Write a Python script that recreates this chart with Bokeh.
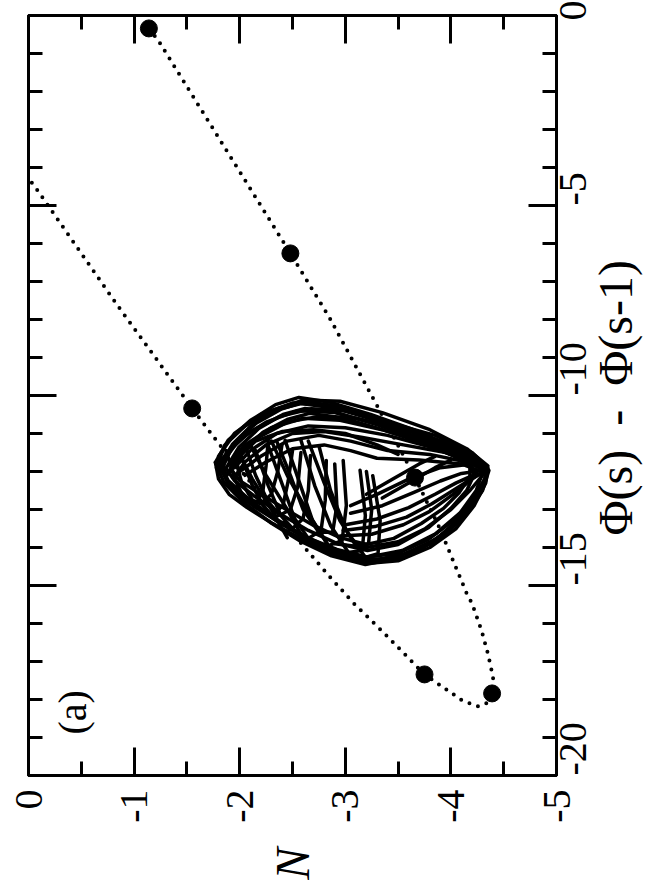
import math
from bokeh.plotting import figure
from bokeh.models import Range1d, LinearAxis, FixedTicker, Label
from bokeh.embed import file_html
from bokeh.resources import INLINE

# ---------------- data ----------------
n_ticks = [0, -1, -2, -3, -4, -5]
n_tick_labels = ["0", "-1", "-2", "-3", "-4", "-5"]
n_minor = [-0.5, -1.5, -2.5, -3.5, -4.5]
phi_ticks = [0, -5, -10, -15, -20]
phi_tick_labels = ["0", "-5", "-10", "-15", "-20"]
phi_minor = [-1, -2, -3, -4, -6, -7, -8, -9, -11, -12, -13, -14, -16, -17, -18, -19]

# dotted orbit (N, Phi diff)
path_N = [0.10, -0.04, -0.83, -1.55, -1.80, -2.50, -2.86, -3.08, -3.37, -3.75, -4.11, -4.26,
          -4.35, -4.39, -4.40, -4.35, -4.29, -4.20, -4.15, -3.89, -3.66, -3.34, -2.85, -2.48,
          -1.23, -1.14]
path_phi = [-4.10, -4.42, -7.58, -10.34, -11.26, -13.63, -14.79, -15.47, -16.26, -17.34, -18.03,
            -18.18, -18.08, -17.84, -17.42, -16.79, -16.18, -15.47, -15.21, -13.47, -12.16,
            -10.47, -7.95, -6.26, -0.66, -0.34]

# big dots on the orbit
marker_N = [-1.14, -2.48, -3.66, -4.39, -3.75, -1.55]
marker_phi = [-0.34, -6.26, -12.16, -17.84, -17.34, -10.34]

# attractor strands
outer1_N = [-1.77, -1.89, -2.10, -2.34, -2.56, -2.86, -3.24, -3.62, -4.00, -4.26, -4.36, -4.30, -4.14, -3.90, -3.57, -3.19, -2.86, -2.58, -2.29, -2.04, -1.85, -1.77]
outer1_phi = [-11.76, -11.18, -10.66, -10.24, -10.05, -10.18, -10.50, -10.87, -11.32, -11.66, -11.97, -12.50, -13.16, -13.76, -14.24, -14.45, -14.21, -13.84, -13.34, -12.82, -12.29, -11.76]
outer2_N = [-1.82, -1.93, -2.12, -2.36, -2.58, -2.88, -3.26, -3.64, -4.00, -4.24, -4.30, -4.24, -4.09, -3.86, -3.54, -3.20, -2.88, -2.60, -2.32, -2.08, -1.89, -1.82]
outer2_phi = [-11.84, -11.29, -10.76, -10.37, -10.21, -10.32, -10.63, -10.97, -11.39, -11.74, -12.03, -12.50, -13.08, -13.63, -14.08, -14.26, -14.05, -13.68, -13.21, -12.71, -12.24, -11.84]
outer3_N = [-1.87, -1.99, -2.18, -2.41, -2.62, -2.92, -3.29, -3.66, -4.00, -4.19, -4.22, -4.15, -4.00, -3.79, -3.50, -3.21, -2.92, -2.65, -2.38, -2.13, -1.95, -1.87]
outer3_phi = [-11.92, -11.37, -10.87, -10.50, -10.34, -10.45, -10.76, -11.11, -11.50, -11.82, -12.08, -12.50, -12.97, -13.47, -13.92, -14.08, -13.89, -13.55, -13.11, -12.63, -12.24, -11.92]
outer4_N = [-1.92, -2.04, -2.22, -2.45, -2.66, -2.96, -3.32, -3.70, -4.02, -4.18, -4.18, -4.08, -3.93, -3.72, -3.46, -3.20, -2.95, -2.70, -2.44, -2.19, -2.00, -1.92]
outer4_phi = [-11.95, -11.45, -10.97, -10.63, -10.47, -10.58, -10.87, -11.21, -11.58, -11.88, -12.13, -12.55, -12.97, -13.37, -13.76, -13.92, -13.74, -13.42, -13.00, -12.58, -12.24, -11.95]
outer5_N = [-1.80, -1.95, -2.16, -2.40, -2.62, -2.92, -3.30, -3.68, -4.02, -4.28, -4.34, -4.26, -4.10, -3.86, -3.55, -3.22, -2.90, -2.62, -2.34, -2.08, -1.88, -1.80]
outer5_phi = [-11.80, -11.25, -10.72, -10.35, -10.16, -10.28, -10.58, -10.95, -11.36, -11.72, -12.05, -12.60, -13.20, -13.78, -14.18, -14.36, -14.12, -13.76, -13.28, -12.76, -12.26, -11.80]

top1_N = [-1.80, -1.95, -2.20, -2.50, -2.85, -3.25, -3.65, -4.00, -4.30]
top1_phi = [-11.60, -11.00, -10.50, -10.20, -10.25, -10.60, -10.95, -11.40, -11.85]
top2_N = [-1.85, -2.00, -2.25, -2.55, -2.90, -3.30, -3.70, -4.05, -4.30]
top2_phi = [-11.70, -11.15, -10.70, -10.40, -10.45, -10.75, -11.10, -11.50, -11.90]
top3_N = [-1.90, -2.05, -2.30, -2.60, -2.95, -3.35, -3.75, -4.10, -4.32]
top3_phi = [-11.80, -11.30, -10.85, -10.60, -10.65, -10.90, -11.25, -11.60, -11.95]
top4_N = [-1.95, -2.10, -2.35, -2.65, -3.00, -3.40, -3.80, -4.15, -4.33]
top4_phi = [-11.90, -11.45, -11.00, -10.80, -10.85, -11.05, -11.35, -11.70, -12.00]
top5_N = [-2.00, -2.20, -2.45, -2.75, -3.05, -3.40, -3.80, -4.15, -4.34]
top5_phi = [-12.00, -11.60, -11.20, -11.05, -11.20, -11.45, -11.55, -11.75, -12.00]
top6_N = [-2.05, -2.25, -2.50, -2.80, -3.05, -3.30, -3.70, -4.10, -4.33]
top6_phi = [-12.10, -11.75, -11.40, -11.30, -11.45, -11.65, -11.70, -11.80, -12.05]
top7_N = [-1.78, -1.86, -2.05, -2.30, -2.60, -2.95, -3.35, -3.80, -4.15, -4.35]
top7_phi = [-11.90, -11.30, -10.80, -10.40, -10.12, -10.15, -10.45, -10.90, -11.40, -11.85]
top8_N = [-1.90, -2.00, -2.15, -2.40, -2.70, -3.00, -3.30, -3.50]
top8_phi = [-12.05, -11.60, -11.20, -10.95, -10.90, -11.00, -11.30, -11.55]
top9_N = [-1.83, -1.92, -2.10, -2.38, -2.68, -3.00, -3.40, -3.85, -4.20, -4.35]
top9_phi = [-11.95, -11.40, -10.95, -10.55, -10.35, -10.40, -10.70, -11.05, -11.50, -11.90]
top10_N = [-1.88, -1.98, -2.18, -2.45, -2.75, -3.10, -3.50, -3.90, -4.22, -4.35]
top10_phi = [-12.10, -11.55, -11.10, -10.70, -10.55, -10.60, -10.85, -11.20, -11.60, -11.95]
top11_N = [-1.95, -2.05, -2.25, -2.50, -2.80, -3.15, -3.55, -3.95, -4.30]
top11_phi = [-12.15, -11.75, -11.30, -11.00, -10.95, -11.10, -11.30, -11.50, -11.90]

low1_N = [-3.00, -3.20, -3.50, -3.80, -4.05, -4.22, -4.33, -4.35]
low1_phi = [-14.25, -14.42, -14.35, -14.00, -13.50, -12.90, -12.30, -11.95]
low2_N = [-2.95, -3.20, -3.50, -3.78, -4.02, -4.20, -4.32, -4.34]
low2_phi = [-14.10, -14.25, -14.15, -13.80, -13.30, -12.75, -12.20, -11.95]
low3_N = [-2.90, -3.20, -3.50, -3.76, -4.00, -4.18, -4.30]
low3_phi = [-13.90, -14.00, -13.85, -13.50, -13.00, -12.50, -12.10]
low4_N = [-2.95, -3.25, -3.55, -3.80, -4.02, -4.20, -4.32]
low4_phi = [-13.70, -13.65, -13.40, -13.05, -12.60, -12.20, -11.98]
low5_N = [-3.00, -3.30, -3.60, -3.85, -4.05, -4.25]
low5_phi = [-13.40, -13.25, -12.95, -12.60, -12.30, -12.05]
low6_N = [-3.05, -3.35, -3.65, -3.90, -4.10, -4.30]
low6_phi = [-13.10, -12.90, -12.55, -12.25, -12.05, -11.97]
low7_N = [-3.05, -3.30, -3.60, -3.90, -4.20]
low7_phi = [-12.90, -12.60, -12.20, -11.90, -11.80]
low8_N = [-3.10, -3.40, -3.70, -3.95, -4.15, -4.30, -4.35]
low8_phi = [-14.30, -14.30, -14.05, -13.60, -13.00, -12.40, -12.00]
low9_N = [-2.98, -3.28, -3.58, -3.82, -4.05, -4.25, -4.34]
low9_phi = [-13.55, -13.45, -13.20, -12.85, -12.45, -12.10, -11.97]
diag1_N = [-3.20, -3.45, -3.70, -3.85]
diag1_phi = [-12.60, -12.20, -11.80, -11.60]
diag2_N = [-3.35, -3.60, -3.85, -4.00]
diag2_phi = [-12.70, -12.30, -11.90, -11.70]

edge1_N = [-1.77, -1.80, -1.90, -2.07, -2.30, -2.60, -2.86, -3.15]
edge1_phi = [-11.76, -12.20, -12.60, -12.95, -13.35, -13.80, -14.15, -14.40]
edge2_N = [-1.85, -1.88, -1.98, -2.15, -2.38, -2.65, -2.92, -3.20]
edge2_phi = [-11.85, -12.25, -12.60, -12.95, -13.35, -13.75, -14.05, -14.25]

arc0_N = [-1.87, -1.96, -2.05, -2.15, -2.22, -2.25, -2.27]
arc0_phi = [-11.45, -12.24, -12.76, -12.89, -12.50, -11.84, -11.18]
arc1_N = [-2.01, -2.12, -2.22, -2.31, -2.41, -2.46, -2.50]
arc1_phi = [-11.58, -12.37, -12.89, -13.16, -12.89, -12.24, -11.45]
arc2_N = [-2.15, -2.27, -2.39, -2.50, -2.60, -2.65, -2.67]
arc2_phi = [-11.45, -12.37, -13.16, -13.50, -13.24, -12.50, -11.58]
arc3_N = [-2.27, -2.39, -2.52, -2.65, -2.77, -2.81, -2.82]
arc3_phi = [-11.32, -12.24, -13.24, -13.76, -13.55, -12.76, -11.71]
arc4_N = [-2.43, -2.56, -2.69, -2.84, -2.97, -3.01, -2.98]
arc4_phi = [-11.18, -12.24, -13.29, -13.95, -13.82, -12.89, -11.71]
arc5_N = [-2.58, -2.71, -2.86, -3.03, -3.16, -3.19, -3.14]
arc5_phi = [-11.18, -12.37, -13.42, -14.13, -14.08, -13.16, -11.97]
arc6_N = [-2.75, -2.86, -3.01, -3.19, -3.31, -3.33, -3.26]
arc6_phi = [-11.32, -12.50, -13.55, -14.26, -14.16, -13.29, -12.11]
arc7_N = [-2.05, -2.15, -2.27, -2.38, -2.48, -2.55, -2.58]
arc7_phi = [-11.30, -12.10, -12.80, -13.15, -13.00, -12.40, -11.50]
arc8_N = [-2.35, -2.48, -2.60, -2.75, -2.88, -2.92, -2.90]
arc8_phi = [-11.20, -12.10, -13.00, -13.60, -13.60, -12.90, -11.80]
arc9_N = [-2.65, -2.80, -2.95, -3.10, -3.22, -3.25, -3.20]
arc9_phi = [-11.20, -12.30, -13.30, -13.95, -13.90, -13.00, -12.00]
arc10_N = [-1.95, -2.02, -2.12, -2.20, -2.30, -2.36, -2.40]
arc10_phi = [-11.60, -12.30, -12.75, -12.85, -12.60, -12.00, -11.30]
slant1_N = [-1.98, -2.12, -2.30, -2.45]
slant1_phi = [-11.45, -12.20, -13.00, -13.74]
slant2_N = [-2.10, -2.25, -2.45, -2.62]
slant2_phi = [-11.30, -12.10, -13.00, -13.85]
slant3_N = [-2.30, -2.45, -2.65, -2.85]
slant3_phi = [-11.20, -12.10, -13.10, -14.00]

strands_N = [outer1_N, outer2_N, outer3_N, outer4_N, outer5_N,
             top1_N, top2_N, top3_N, top4_N, top5_N, top6_N, top7_N, top8_N, top9_N, top10_N, top11_N,
             low1_N, low2_N, low3_N, low4_N, low5_N, low6_N, low7_N, low8_N, low9_N, diag1_N, diag2_N,
             edge1_N, edge2_N, arc0_N, arc1_N, arc2_N, arc3_N, arc4_N, arc5_N, arc6_N,
             arc7_N, arc8_N, arc9_N, arc10_N, slant1_N, slant2_N, slant3_N]
strands_phi = [outer1_phi, outer2_phi, outer3_phi, outer4_phi, outer5_phi,
               top1_phi, top2_phi, top3_phi, top4_phi, top5_phi, top6_phi, top7_phi, top8_phi, top9_phi, top10_phi, top11_phi,
               low1_phi, low2_phi, low3_phi, low4_phi, low5_phi, low6_phi, low7_phi, low8_phi, low9_phi, diag1_phi, diag2_phi,
               edge1_phi, edge2_phi, arc0_phi, arc1_phi, arc2_phi, arc3_phi, arc4_phi, arc5_phi, arc6_phi,
               arc7_phi, arc8_phi, arc9_phi, arc10_phi, slant1_phi, slant2_phi, slant3_phi]

x_title = "N"
y_title = "\u03a6(s)\u2002-\u2002\u03a6(s-1)"

# ---------------- figure ----------------
FONT = "Liberation Serif"

p = figure(frame_width=528, frame_height=760,
           x_range=Range1d(0, -5), y_range=Range1d(-20, 0),
           x_axis_location=None, y_axis_location=None,
           toolbar_location=None, output_backend="svg",
           min_border_left=28, min_border_top=15, min_border_right=98, min_border_bottom=112)
p.grid.visible = False
p.background_fill_color = "white"
p.border_fill_color = "white"
p.outline_line_color = "black"
p.outline_line_width = 3


def style_axis(ax, ticks, minor, labels, show):
    ax.ticker = FixedTicker(ticks=ticks, minor_ticks=minor)
    ax.axis_line_width = 3
    ax.axis_line_color = "black"
    ax.major_tick_line_width = 3
    ax.minor_tick_line_width = 3
    ax.major_tick_in = 28
    ax.major_tick_out = 0
    ax.minor_tick_in = 14
    ax.minor_tick_out = 0
    if show:
        ax.major_label_overrides = {t: l for t, l in zip(ticks, labels)}
        ax.major_label_text_font = FONT
        ax.major_label_text_font_size = "40px"
        ax.major_label_text_color = "black"
        ax.major_label_orientation = math.pi / 2
    else:
        ax.major_label_text_color = None
        ax.major_label_text_font_size = "1px"
        ax.major_label_standoff = 0


def rotate_title(ax):
    try:
        ax.axis_label_orientation = math.pi / 2
    except Exception:
        pass


bottom = LinearAxis(axis_label=x_title)
style_axis(bottom, n_ticks, n_minor, n_tick_labels, True)
bottom.major_label_standoff = 14
bottom.axis_label_text_font = FONT
bottom.axis_label_text_font_size = "48px"
bottom.axis_label_text_font_style = "italic"
bottom.axis_label_text_color = "black"
bottom.axis_label_standoff = 22
rotate_title(bottom)
p.add_layout(bottom, "below")

top = LinearAxis()
style_axis(top, n_ticks, n_minor, n_tick_labels, False)
p.add_layout(top, "above")

# the rotated title starts at the lower end of the axis; leading em spaces lift it to its place
right = LinearAxis(axis_label="\u2003" * 5 + y_title)
style_axis(right, phi_ticks, phi_minor, phi_tick_labels, True)
right.major_label_standoff = 16
right.axis_label_text_font = FONT
right.axis_label_text_font_size = "48px"
right.axis_label_text_font_style = "normal"
right.axis_label_text_color = "black"
right.axis_label_standoff = 14
rotate_title(right)
try:
    right.axis_label_align = "start"
except Exception:
    pass
p.add_layout(right, "right")

left = LinearAxis()
style_axis(left, phi_ticks, phi_minor, phi_tick_labels, False)
p.add_layout(left, "left")

# orbit (dotted)
p.line(path_N, path_phi, line_color="black", line_width=4, line_dash="0 9", line_cap="round")

# attractor
p.multi_line(xs=strands_N, ys=strands_phi, line_color="black", line_width=3.5,
             line_join="round", line_cap="round")

# big dots
p.scatter(marker_N, marker_phi, size=17, color="black")

p.add_layout(Label(x=-0.42, y=-18.34, text="(a)", angle=math.pi / 2,
                   text_font=FONT, text_font_size="40px",
                   text_align="center", text_baseline="middle", text_color="black"))

open("out.html", "w").write(file_html(p, INLINE))
